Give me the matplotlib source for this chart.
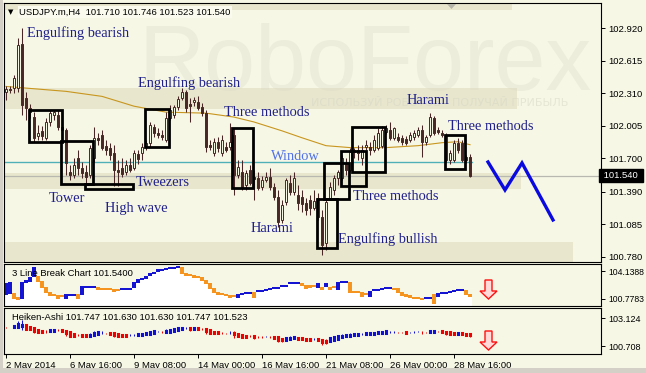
import matplotlib
matplotlib.use('Agg')
import matplotlib.pyplot as plt
from matplotlib.patches import Rectangle, Polygon
import numpy as np

plt.rcParams['font.family'] = ['Liberation Sans', 'DejaVu Sans']

W, H = 646, 373
BG = '#f7f7e6'
BAND = '#e8e6cd'
CANDLE = '#4a2727'
NAVY = '#20208c'

# USDJPY.m H4, bar 0 = 2 May 2014 00:00
opens = [102.323, 102.351, 102.360, 102.360, 102.773, 102.267, 102.173, 102.088, 101.911, 101.958,
         101.892, 102.042, 102.107, 102.107, 101.995, 101.967, 101.573, 101.545, 101.705, 101.611,
         101.573, 101.545, 101.705, 101.892, 101.920, 101.817, 101.799, 101.752, 101.592, 101.611,
         101.573, 101.639, 101.611, 101.742, 101.752, 101.808, 101.845, 101.995, 101.939, 101.920,
         101.873, 102.079, 102.107, 102.182, 102.267, 102.323, 102.211, 102.229, 102.229, 102.182,
         102.126, 101.827, 101.752, 101.854, 101.752, 101.808, 101.808, 101.920, 101.545, 101.573,
         101.451, 101.592, 101.526, 101.517, 101.433, 101.498, 101.526, 101.433, 101.339, 101.124,
         101.292, 101.470, 101.386, 101.358, 101.339, 101.283, 101.311, 101.236, 101.330, 101.152,
         100.908, 101.330, 101.405, 101.517, 101.517, 101.658, 101.592, 101.761, 101.780, 101.705,
         101.808, 101.808, 101.780, 101.799, 101.817, 101.948, 101.967, 101.892, 101.901, 101.892,
         101.883, 101.873, 101.901, 101.920, 101.967, 101.854, 101.920, 102.079, 101.967, 101.939,
         101.911, 101.686, 101.686, 101.845, 101.845, 101.714, 101.710]
highs = [102.379, 102.379, 102.482, 102.829, 102.923, 102.323, 102.211, 102.136, 102.014, 102.005,
         102.079, 102.154, 102.154, 102.154, 102.042, 101.986, 101.639, 101.705, 101.780, 101.667,
         101.639, 101.827, 101.995, 101.939, 101.967, 101.873, 101.845, 101.827, 101.686, 101.705,
         101.686, 101.705, 101.780, 101.780, 101.845, 101.873, 102.042, 102.023, 101.986, 101.967,
         102.136, 102.201, 102.201, 102.286, 102.360, 102.342, 102.267, 102.276, 102.286, 102.220,
         102.154, 101.873, 101.892, 101.901, 101.920, 101.854, 102.033, 101.986, 101.686, 101.686,
         101.592, 101.639, 101.592, 101.573, 101.536, 101.573, 101.611, 101.470, 101.405, 101.311,
         101.517, 101.545, 101.573, 101.451, 101.405, 101.330, 101.358, 101.405, 101.377, 101.217,
         101.311, 101.479, 101.545, 101.592, 101.733, 101.705, 101.799, 101.799, 101.827, 101.827,
         101.873, 101.854, 101.920, 101.986, 102.005, 102.014, 102.042, 101.995, 101.939, 101.920,
         101.911, 101.948, 101.967, 101.995, 102.014, 101.920, 102.126, 102.098, 101.995, 101.967,
         101.939, 101.780, 101.873, 101.892, 101.873, 101.733, 101.746]
lows = [102.248, 102.314, 102.314, 102.323, 102.107, 102.061, 102.079, 101.854, 101.873, 101.873,
        101.873, 102.005, 102.061, 101.967, 101.920, 101.545, 101.498, 101.517, 101.545, 101.517,
        101.451, 101.517, 101.667, 101.827, 101.780, 101.733, 101.686, 101.442, 101.442, 101.526,
        101.545, 101.573, 101.592, 101.648, 101.686, 101.780, 101.808, 101.901, 101.892, 101.873,
        101.854, 102.061, 102.079, 102.154, 102.248, 102.136, 102.042, 102.192, 102.154, 102.098,
        101.761, 101.780, 101.723, 101.761, 101.723, 101.761, 101.780, 101.358, 101.517, 101.405,
        101.405, 101.451, 101.311, 101.405, 101.405, 101.479, 101.405, 101.311, 101.058, 101.096,
        101.264, 101.358, 101.358, 101.217, 101.198, 101.170, 101.170, 101.217, 101.124, 100.796,
        100.843, 101.311, 101.358, 101.451, 101.498, 101.545, 101.573, 101.705, 101.686, 101.639,
        101.780, 101.733, 101.761, 101.780, 101.799, 101.930, 101.873, 101.873, 101.854, 101.827,
        101.827, 101.854, 101.873, 101.901, 101.714, 101.827, 101.901, 101.920, 101.930, 101.901,
        101.667, 101.648, 101.667, 101.752, 101.667, 101.658, 101.523]
closes = [102.351, 102.342, 102.454, 102.763, 102.201, 102.173, 102.136, 101.892, 101.939, 101.911,
          102.042, 102.126, 102.136, 101.995, 101.967, 101.658, 101.545, 101.639, 101.611, 101.564,
          101.526, 101.799, 101.892, 101.873, 101.799, 101.780, 101.733, 101.592, 101.573, 101.554,
          101.639, 101.592, 101.752, 101.695, 101.808, 101.845, 102.014, 101.939, 101.920, 101.901,
          102.079, 102.154, 102.182, 102.258, 102.323, 102.173, 102.192, 102.248, 102.173, 102.126,
          101.808, 101.808, 101.854, 101.799, 101.873, 101.780, 101.854, 101.545, 101.620, 101.433,
          101.564, 101.470, 101.507, 101.423, 101.498, 101.526, 101.433, 101.339, 101.105, 101.264,
          101.498, 101.386, 101.517, 101.283, 101.273, 101.217, 101.236, 101.302, 101.152, 100.889,
          101.292, 101.433, 101.517, 101.573, 101.705, 101.592, 101.761, 101.780, 101.752, 101.780,
          101.827, 101.780, 101.873, 101.939, 101.967, 101.986, 101.892, 101.986, 101.873, 101.854,
          101.845, 101.920, 101.939, 101.967, 101.854, 101.901, 102.089, 101.939, 101.948, 101.920,
          101.686, 101.752, 101.845, 101.780, 101.686, 101.686, 101.540]

# moving average, read at a few bars
ma_bars = [0, 15, 24, 32, 40, 50, 57, 62, 69, 74, 80, 86, 95, 103, 109, 113, 116]
ma_vals = [102.375, 102.329, 102.282, 102.190, 102.134, 102.125, 102.088, 102.042, 101.959,
           101.894, 101.820, 101.802, 101.802, 101.820, 101.848, 101.857, 101.829]

teal_level = 101.663
last_price = 101.540

# support / resistance zones (low, high, last bar reached)
zone_lo = [102.162, 101.414, 100.700, 103.090]
zone_hi = [102.365, 101.561, 100.915, 103.200]
zone_end = [127.75, 128.75, 141.75, 126.5]

# pattern boxes (first bar, last bar, low, high)
box_b0 = [5.75, 13.75, 19.75, 34.75, 56.5, 77.75, 79.5, 83.75, 86.5, 109.75]
box_b1 = [14.0, 21.75, 31.75, 40.75, 61.75, 82.75, 85.75, 90.0, 94.75, 114.75]
box_lo = [101.854, 101.461, 101.414, 101.808, 101.423, 100.861, 101.320, 101.442, 101.573, 101.601]
box_hi = [102.154, 101.864, 101.461, 102.164, 101.986, 101.320, 101.658, 101.770, 101.995, 101.920]

# forecast zigzag
fc_bars = [120.5, 124.75, 129.0, 136.75]
fc_price = [101.667, 101.405, 101.658, 101.124]

# 3 Line Break bricks per bar
lb_open = [101.378, 101.498, 101.498, 101.018, 100.898, 102.699, 102.819, 103.419, 103.419, 102.819,
           102.218, 101.618, 101.378, 101.258, 101.258, 100.898, 101.258, 101.258, 101.378, 101.378,
           102.218, 102.218, 102.218, 102.218, 102.098, 102.098, 102.098, 101.978, 101.978, 101.978,
           101.978, 101.978, 102.218, 102.699, 103.059, 103.179, 103.539, 103.779, 104.019, 104.139,
           104.259, 104.379, 104.379, 104.499, 104.499, 103.779, 103.659, 103.539, 103.419, 103.299,
           102.939, 102.579, 102.098, 101.618, 101.498, 101.378, 101.258, 101.258, 101.018, 101.378,
           101.498, 101.498, 101.618, 101.738, 101.738, 101.858, 101.978, 102.098, 102.098, 102.338,
           102.338, 102.579, 102.579, 102.579, 102.579, 102.458, 102.458, 102.458, 102.218, 102.218,
           102.338, 102.218, 102.338, 101.978, 102.699, 102.699, 102.699, 101.738, 101.738, 101.618,
           101.498, 101.138, 101.858, 101.858, 101.978, 102.098, 102.098, 102.098, 102.098, 101.618,
           101.378, 101.258, 101.018, 101.018, 100.898, 100.898, 100.898, 101.378, 101.138, 101.498,
           101.498, 101.618, 101.738, 101.858, 101.858, 101.858, 101.378]
lb_close = [102.579, 102.699, 100.898, 100.778, 102.699, 102.939, 103.299, 104.499, 102.819, 102.218,
            101.618, 101.258, 101.258, 100.898, 101.138, 101.378, 101.378, 101.378, 100.898, 102.338,
            102.338, 102.338, 102.338, 101.978, 101.978, 101.978, 101.978, 101.738, 101.858, 102.098,
            102.098, 102.098, 102.699, 103.059, 103.179, 103.419, 103.779, 103.899, 104.259, 104.259,
            104.379, 104.499, 104.499, 104.619, 103.779, 103.539, 103.539, 103.299, 103.299, 102.939,
            102.579, 102.098, 101.618, 101.378, 101.378, 101.258, 101.018, 101.138, 101.378, 101.498,
            101.618, 101.618, 101.018, 101.858, 101.858, 101.978, 102.098, 102.218, 102.218, 102.458,
            102.458, 102.699, 102.699, 102.699, 102.458, 102.098, 102.218, 102.338, 102.579, 101.978,
            102.579, 101.978, 102.218, 102.699, 102.819, 102.819, 101.618, 101.618, 101.618, 101.138,
            101.378, 101.738, 101.978, 101.978, 102.098, 102.218, 102.218, 101.978, 101.618, 101.258,
            101.138, 101.018, 100.898, 100.898, 100.778, 101.018, 101.018, 100.298, 101.498, 101.618,
            101.618, 101.738, 101.858, 101.978, 101.978, 101.378, 101.138]

date_bars = [0, 16, 32, 48, 64, 80, 96, 112]
date_labels = ['2 May 2014', '6 May 16:00', '9 May 08:00', '14 May 00:00',
               '16 May 16:00', '21 May 08:00', '26 May 00:00', '28 May 16:00']
price_ticks = [102.920, 102.615, 102.310, 102.005, 101.700, 101.390, 101.085, 100.780]

patterns = [('Engulfing bearish', 27, 33), ('Engulfing bearish', 138, 83),
            ('Three methods', 224, 113), ('Harami', 407, 100),
            ('Three methods', 448, 126), ('Tweezers', 136, 182),
            ('Tower', 49, 198), ('High wave', 105, 208),
            ('Three methods', 353, 197), ('Harami', 251, 228),
            ('Engulfing bullish', 338, 239)]

o = np.array(opens); h = np.array(highs); l = np.array(lows); c = np.array(closes)
x = np.arange(len(o))

fig = plt.figure(figsize=(W / 100, H / 100), dpi=100, facecolor=BG)


def px_axes(x0, y0, x1, y1, lsize=6.8):
    a = fig.add_axes([x0 / W, 1 - y1 / H, (x1 - x0) / W, (y1 - y0) / H])
    a.set_facecolor(BG)
    a.set_xlim(-0.5, 148.75)
    for s in a.spines.values():
        s.set_linewidth(0.8)
        s.set_color('black')
    a.tick_params(axis='x', bottom=False, labelbottom=False)
    a.yaxis.tick_right()
    a.tick_params(axis='y', direction='out', length=3, width=0.7, pad=2, labelsize=lsize)
    return a


def fpx(xp, yp):
    return xp / W, 1 - yp / H


# ---------------- main chart ----------------
ax = px_axes(4, 3, 601, 262)
ax.set_ylim(100.730, 103.157)
ax.set_yticks(price_ticks)
ax.set_yticklabels(['%.3f' % v for v in price_ticks])

for lo_, hi_, end_ in zip(zone_lo, zone_hi, zone_end):
    ax.add_patch(Rectangle((-0.5, lo_), end_ + 0.5, hi_ - lo_, facecolor=BAND,
                           edgecolor='none', zorder=0.5))

# watermark
ax.text(0.605, 0.665, 'RoboForex', transform=ax.transAxes, fontsize=66, color='#d9d9c6',
        alpha=0.33, ha='center', va='baseline', zorder=0.6)
ax.text(0.729, 0.615, 'ИСПОЛЬЗУЙ РОБОТОВ - ПОЛУЧАЙ ПРИБЫЛЬ', transform=ax.transAxes,
        fontsize=8, color='#d5d5c3', alpha=0.5, ha='center', va='center',
        family='DejaVu Sans', zorder=0.6)

ax.axhline(last_price, color='#b8b8b0', lw=0.9, zorder=1)
ax.plot([-0.5, len(o) - 0.5], [teal_level, teal_level], color='#4fb0b8', lw=1.0, zorder=1)
ax.plot(ma_bars, ma_vals, color='#c8961e', lw=0.8, zorder=1.2)

# candles
ax.vlines(x, l, h, color=CANDLE, lw=0.75, zorder=2)
for i in range(len(o)):
    up = c[i] >= o[i]
    b0, b1 = min(o[i], c[i]), max(o[i], c[i])
    ax.add_patch(Rectangle((x[i] - 0.37, b0), 0.74, max(b1 - b0, 0.004),
                           facecolor=BG if up else CANDLE, edgecolor=CANDLE,
                           lw=0.7, zorder=2.1))

for b0, b1, lo_, hi_ in zip(box_b0, box_b1, box_lo, box_hi):
    ax.add_patch(Rectangle((b0, lo_), b1 - b0, hi_ - lo_, facecolor='none',
                           edgecolor='black', lw=2.0, zorder=3))

ax.plot(fc_bars, fc_price, color='#0a0ae0', lw=2.4, zorder=3, solid_joinstyle='miter')

ax.text(1.0, last_price, ' %.3f ' % last_price, transform=ax.get_yaxis_transform(),
        ha='left', va='center', fontsize=6.8, color='white', zorder=5, clip_on=False,
        bbox=dict(boxstyle='square,pad=0.25', facecolor='black', edgecolor='black'))

for s, xp, yp in patterns:
    fig.text(xp / W, 1 - yp / H, s, fontsize=10.4, family='Liberation Serif',
             color=NAVY, va='center', ha='left')
fig.text(271 / W, 1 - 156 / H, 'Window', fontsize=10.4, family='Liberation Serif',
         color='#5070ea', va='center', ha='left')

# header
fig.text(8 / W, 1 - 12 / H, '\u25bc', fontsize=5, color='black', va='center',
         family='DejaVu Sans')
fig.text(19 / W, 1 - 12 / H, 'USDJPY.m,H4  101.710 101.746 101.523 101.540', fontsize=6.8,
         color='black', va='center',
         bbox=dict(boxstyle='square,pad=0.15', facecolor='#fafaee', edgecolor='none'))
fig.patches.append(Polygon([fpx(447, 4), fpx(456, 4), fpx(451.5, 9)], closed=True,
                           transform=fig.transFigure, facecolor='#b4b4a8', edgecolor='none'))

# ---------------- 3 line break ----------------
ax2 = px_axes(4, 264, 601, 306, lsize=6.2)
ax2.set_ylim(99.938, 104.979)
ax2.set_yticks([104.1388, 100.7783])
ax2.set_yticklabels(['104.1388', '100.7783'])
lo_ = np.array(lb_open); lc_ = np.array(lb_close)
tops = np.maximum(lo_, lc_)
ax2.bar(x, tops - 99.938, bottom=99.938, width=1.0, color='white', zorder=1)
lb_up = lc_ >= lo_
ax2.bar(x, np.abs(lc_ - lo_) + 0.12, bottom=np.minimum(lo_, lc_) - 0.06, width=0.8,
        color=np.where(lb_up, '#1414d2', '#f5951f'), zorder=2)
ax2.text(8 / 597, 0.78, '3 Line Break Chart 101.5400', transform=ax2.transAxes,
         fontsize=6.8, va='center', zorder=3)

# ---------------- Heiken-Ashi ----------------
ax3 = px_axes(4, 308, 601, 354, lsize=6.5)
ax3.set_ylim(100.018, 103.987)
ax3.set_yticks([103.124, 100.708])
ax3.set_yticklabels(['103.124', '100.708'])
ha_c = (o + h + l + c) / 4
ha_o = np.zeros_like(ha_c)
ha_o[0] = (o[0] + c[0]) / 2
for i in range(1, len(o)):
    ha_o[i] = (ha_o[i - 1] + ha_c[i - 1]) / 2
ha_h = np.maximum(h, np.maximum(ha_o, ha_c))
ha_l = np.minimum(l, np.minimum(ha_o, ha_c))
ha_col = np.where(ha_c >= ha_o, '#1010d8', '#f00000')
ax3.vlines(x, ha_l, ha_h, colors=ha_col, lw=0.75, zorder=2)
body = ax3.vlines(x, np.minimum(ha_o, ha_c), np.maximum(ha_o, ha_c), colors=ha_col,
                  lw=2.2, zorder=2)
body.set_capstyle('projecting')
ax3.text(8 / 597, 0.8, 'Heiken-Ashi 101.747 101.630 101.630 101.747 101.523',
         transform=ax3.transAxes, fontsize=6.8, va='center', zorder=3)

ax3.set_xticks(date_bars)
ax3.set_xticklabels(date_labels)
ax3.tick_params(axis='x', bottom=True, labelbottom=True, direction='out', length=3,
                width=0.7, pad=2, labelsize=6.8)
for t in ax3.get_xticklabels():
    t.set_ha('left')

# red arrows
for top in (280, 331):
    pts = [(485, top), (492, top), (492, top + 11), (497, top + 11), (488.5, top + 19),
           (480, top + 11), (485, top + 11)]
    fig.patches.append(Polygon([fpx(*p) for p in pts], closed=True, transform=fig.transFigure,
                               facecolor='#ffd8d8', edgecolor='#ff1010', lw=1.0))

# window frame
fig.patches.append(Rectangle((0, 0), 3 / W, 1, transform=fig.transFigure,
                             facecolor='#d4d0c8', edgecolor='none'))
fig.patches.append(Rectangle((0, 0), 1, 5 / H, transform=fig.transFigure,
                             facecolor='#d4d0c8', edgecolor='none'))

fig.savefig('out.png', dpi=100, facecolor=BG)
